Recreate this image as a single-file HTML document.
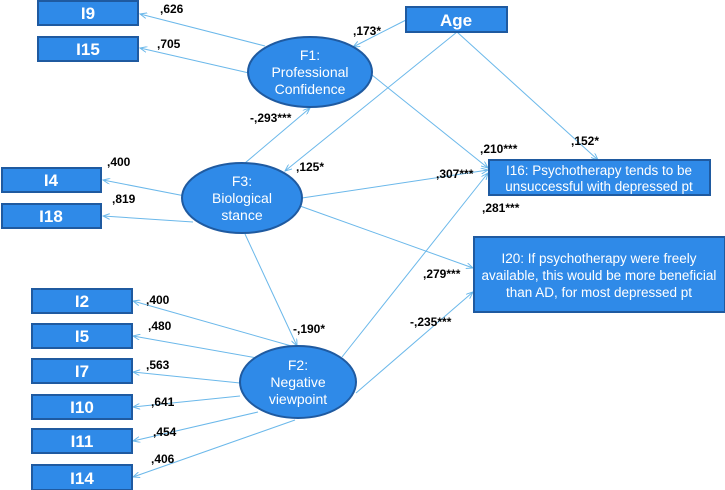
<!DOCTYPE html>
<html><head><meta charset="utf-8"><style>
html,body{margin:0;padding:0;background:#fff;}
svg{display:block;font-family:"Liberation Sans",sans-serif;}
.b{fill:#2f8ae8;stroke:#1f5aa0;stroke-width:2;}
.l{stroke:#6bb8ea;stroke-width:1;fill:none;marker-end:url(#a);}
.t{fill:#fff;font-weight:bold;font-size:17px;text-anchor:middle;}
.e{fill:#fff;font-size:14px;text-anchor:middle;}
.s{fill:#fff;font-size:13.5px;text-anchor:middle;}
.n{fill:#000;font-weight:bold;font-size:12px;}
</style></head><body>
<svg width="725" height="490" viewBox="0 0 725 490">
<defs><marker id="a" markerWidth="8" markerHeight="6" refX="7" refY="3" orient="auto" markerUnits="userSpaceOnUse"><path d="M0,0 L7,3 L0,6" fill="none" stroke="#6bb8ea" stroke-width="1"/></marker></defs>
<line class="l" x1="265" y1="46" x2="140" y2="14"/>
<line class="l" x1="249" y1="73" x2="140" y2="48"/>
<line class="l" x1="406" y1="20" x2="353" y2="47"/>
<line class="l" x1="457" y1="32" x2="285" y2="171"/>
<line class="l" x1="457" y1="32" x2="598" y2="160"/>
<line class="l" x1="372" y1="75" x2="488" y2="168"/>
<line class="l" x1="245" y1="163" x2="310" y2="108"/>
<line class="l" x1="302" y1="198" x2="488" y2="170"/>
<line class="l" x1="300" y1="206" x2="473" y2="268"/>
<line class="l" x1="245" y1="234" x2="297" y2="346"/>
<line class="l" x1="185" y1="196" x2="103" y2="180"/>
<line class="l" x1="193" y1="222" x2="103" y2="216"/>
<line class="l" x1="342" y1="357" x2="488" y2="173"/>
<line class="l" x1="356" y1="393" x2="473" y2="292"/>
<line class="l" x1="295" y1="347" x2="133" y2="301"/>
<line class="l" x1="257" y1="358" x2="133" y2="336"/>
<line class="l" x1="240" y1="383" x2="133" y2="372"/>
<line class="l" x1="240" y1="396" x2="133" y2="407"/>
<line class="l" x1="258" y1="412" x2="133" y2="441"/>
<line class="l" x1="295" y1="420" x2="133" y2="477"/>

<rect class="b" x="38" y="1" width="100" height="24"/><text class="t" x="88" y="19">I9</text>
<rect class="b" x="38" y="37" width="100" height="24"/><text class="t" x="88" y="55">I15</text>
<rect class="b" x="406" y="7" width="101" height="25"/><text class="t" x="456" y="26">Age</text>
<rect class="b" x="2" y="168" width="99" height="24"/><text class="t" x="51" y="186">I4</text>
<rect class="b" x="2" y="204" width="99" height="24"/><text class="t" x="51" y="222">I18</text>
<rect class="b" x="32" y="289" width="100" height="24"/><text class="t" x="82" y="307">I2</text>
<rect class="b" x="32" y="324" width="100" height="24"/><text class="t" x="82" y="342">I5</text>
<rect class="b" x="32" y="359" width="100" height="24"/><text class="t" x="82" y="377">I7</text>
<rect class="b" x="32" y="395" width="100" height="24"/><text class="t" x="82" y="413">I10</text>
<rect class="b" x="32" y="429" width="100" height="24"/><text class="t" x="82" y="447">I11</text>
<rect class="b" x="32" y="465" width="100" height="25"/><text class="t" x="82" y="484">I14</text>

<rect class="b" x="489" y="160" width="221" height="35"/>
<text class="s" x="599" y="175">I16: Psychotherapy tends to be</text>
<text class="s" x="599" y="191">unsuccessful with depressed pt</text>
<rect class="b" x="474" y="237" width="251" height="75"/>
<text class="s" x="599" y="263">I20: If psychotherapy were freely</text>
<text class="s" x="599" y="280">available, this would be more beneficial</text>
<text class="s" x="599" y="297">than AD, for most depressed pt</text>

<ellipse class="b" cx="310" cy="72" rx="62" ry="35"/>
<text class="e" x="310" y="60">F1:</text><text class="e" x="310" y="77">Professional</text><text class="e" x="310" y="94">Confidence</text>
<ellipse class="b" cx="242" cy="198" rx="60" ry="35"/>
<text class="e" x="242" y="186">F3:</text><text class="e" x="242" y="203">Biological</text><text class="e" x="242" y="220">stance</text>
<ellipse class="b" cx="298" cy="382" rx="58" ry="36"/>
<text class="e" x="298" y="370">F2:</text><text class="e" x="298" y="387">Negative</text><text class="e" x="298" y="404">viewpoint</text>

<text class="n" x="160" y="13">,626</text>
<text class="n" x="157" y="48">,705</text>
<text class="n" x="353" y="35">,173*</text>
<text class="n" x="250" y="122">-,293***</text>
<text class="n" x="107" y="166">,400</text>
<text class="n" x="112" y="203">,819</text>
<text class="n" x="296" y="171">,125*</text>
<text class="n" x="436" y="178">,307***</text>
<text class="n" x="480" y="153">,210***</text>
<text class="n" x="482" y="212">,281***</text>
<text class="n" x="571" y="145">,152*</text>
<text class="n" x="423" y="278">,279***</text>
<text class="n" x="410" y="326">-,235***</text>
<text class="n" x="293" y="333">-,190*</text>
<text class="n" x="146" y="304">,400</text>
<text class="n" x="148" y="330">,480</text>
<text class="n" x="146" y="369">,563</text>
<text class="n" x="151" y="406">,641</text>
<text class="n" x="153" y="436">,454</text>
<text class="n" x="151" y="463">,406</text>
</svg>
</body></html>
